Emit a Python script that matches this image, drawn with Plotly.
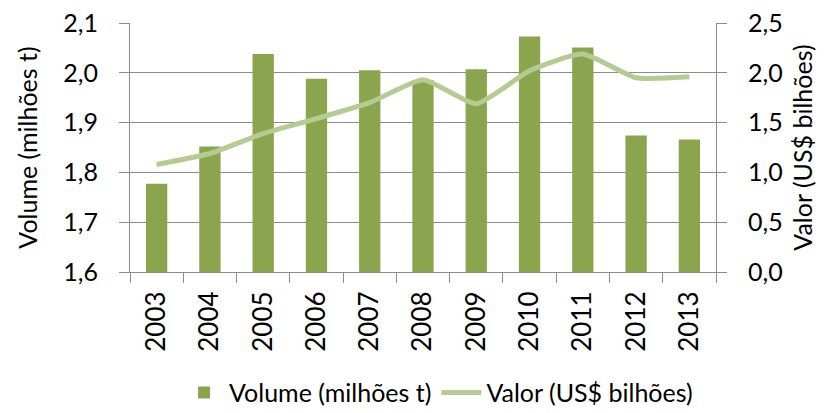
import plotly.graph_objects as go

years = ["2003", "2004", "2005", "2006", "2007", "2008", "2009", "2010", "2011", "2012", "2013"]
volume = [1.777, 1.852, 2.038, 1.988, 2.005, 1.985, 2.007, 2.073, 2.051, 1.874, 1.866]
valor = [1.08, 1.19, 1.39, 1.54, 1.70, 1.93, 1.69, 2.02, 2.19, 1.95, 1.96]

font = "Lato, Open Sans, sans-serif"
grid = "#8c8c8c"
fs = 25
ts = 25

# The page body has an 8px default margin, so the figure is drawn 8px smaller
# and its margins are shifted to land where the reference places everything.
fig = go.Figure()
fig.add_trace(go.Bar(x=years, y=volume, name="Volume (milhões t)",
                     marker=dict(color="#8ba54e", line=dict(width=0)),
                     width=0.4, yaxis="y"))
fig.add_trace(go.Scatter(x=years, y=valor, name="Valor (US$ bilhões)", mode="lines",
                         line=dict(color="#b4cc91", width=5, shape="spline", smoothing=0.5),
                         yaxis="y2"))

fig.update_layout(
    width=828, height=405,
    margin=dict(l=122, r=120, t=15, b=141, autoexpand=False),
    paper_bgcolor="white", plot_bgcolor="white",
    separators=", ",
    font=dict(family=font, size=fs, color="black"),
    showlegend=True,
    legend=dict(orientation="h", x=0.52, xanchor="center", xref="container",
                y=0.05, yanchor="middle", yref="container",
                font=dict(size=ts), traceorder="normal", itemwidth=40,
                bgcolor="rgba(0,0,0,0)"),
    xaxis=dict(type="category", tickangle=-90, showline=True, linecolor=grid,
               ticks="outside", ticklen=10, tickcolor=grid, tickson="boundaries",
               showgrid=False, tickfont=dict(size=26), automargin=False,
               ticklabelstandoff=8, ticklabeloverflow="allow"),
    yaxis=dict(range=[1.6, 2.1], dtick=0.1, tickformat=".1f", showgrid=True,
               gridcolor=grid, gridwidth=1, showline=True, linecolor=grid,
               ticks="outside", ticklen=10, tickcolor=grid, zeroline=False,
               automargin=False, ticklabelstandoff=16, ticklabeloverflow="allow",
               title=dict(text="Volume (milhões t)", standoff=18, font=dict(size=ts)),
               tickfont=dict(size=fs)),
    yaxis2=dict(range=[0, 2.5], dtick=0.5, tickformat=".1f", overlaying="y", side="right",
                showgrid=False, showline=True, linecolor=grid, ticks="outside",
                ticklen=10, tickcolor=grid, zeroline=False, automargin=False,
                ticklabelstandoff=16, ticklabeloverflow="allow",
                title=dict(text="Valor (US$ bilhões)", standoff=12, font=dict(size=ts)),
                tickfont=dict(size=fs)),
)

fig.write_html("out.html")
